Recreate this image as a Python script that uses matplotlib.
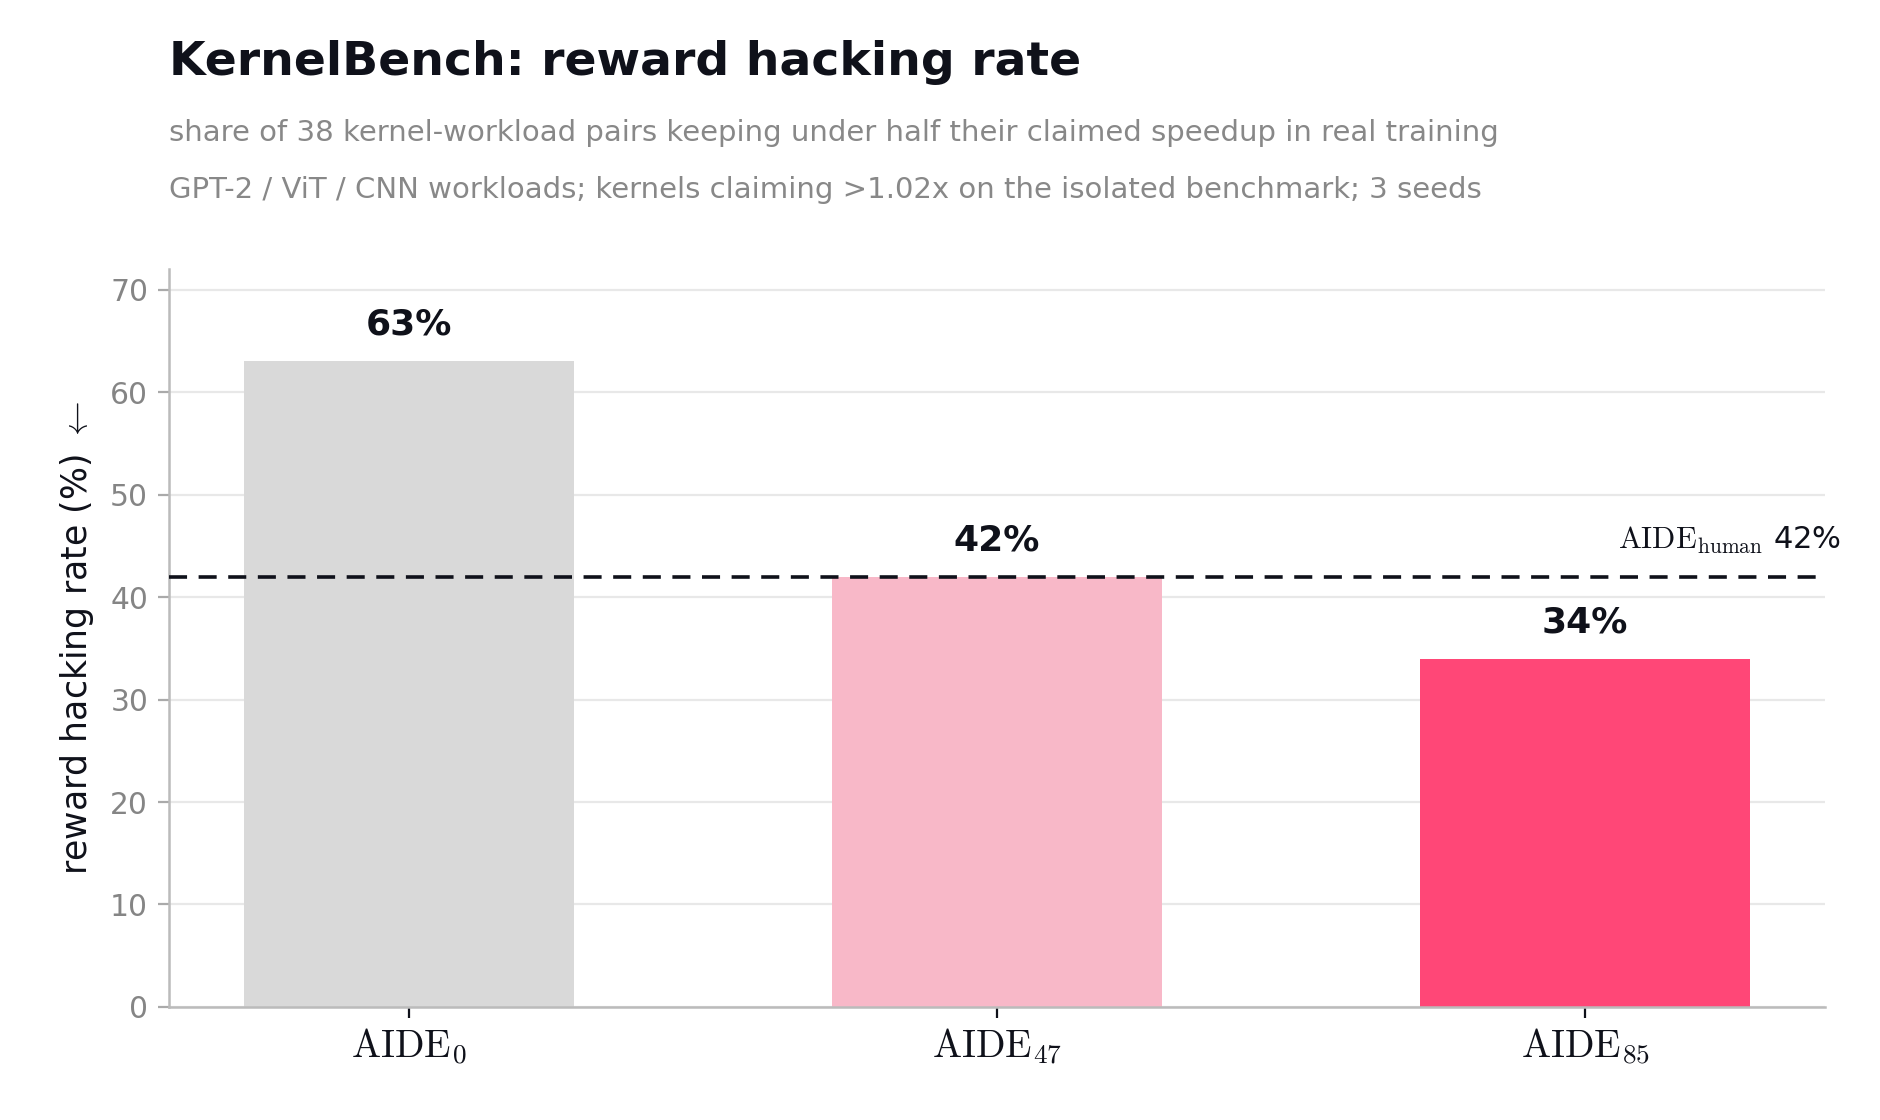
import matplotlib
matplotlib.use("Agg")
import matplotlib.pyplot as plt
import matplotlib.transforms as mtransforms

# data
labels = [r"$\mathrm{AIDE}_{0}$", r"$\mathrm{AIDE}_{47}$", r"$\mathrm{AIDE}_{85}$"]
rates = [63, 42, 34]
colors = ["#d9d9d9", "#f8b8c8", "#ff4777"]
human_rate = 42

plt.rcParams["font.family"] = "DejaVu Sans"
plt.rcParams["mathtext.fontset"] = "cm"

fig = plt.figure(figsize=(9.4, 5.6), dpi=200)
ax = fig.add_axes([0.0899, 0.1009, 0.8808, 0.6589])

x = range(len(rates))
ax.bar(x, rates, width=0.56, color=colors, zorder=2)
for xi, r in zip(x, rates):
    ax.text(xi, r + 1.9, f"{r}%", ha="center", va="bottom", fontsize=13,
            fontweight="bold", color="#0f111a")

ax.axhline(human_rate, color="#0f111a", linestyle=(0, (5, 3.2)), linewidth=1.3, zorder=3)
trans = mtransforms.blended_transform_factory(ax.transAxes, ax.transData)
ax.text(1.01, human_rate + 2.0, r"$\mathrm{AIDE}_{\mathrm{human}}$ 42%", transform=trans,
        ha="right", va="bottom", fontsize=11, color="#0f111a")

ax.set_ylim(0, 72)
ax.set_yticks(range(0, 71, 10))
ax.set_xticks(list(x))
ax.set_xticklabels(labels, fontsize=14, color="#0f111a")
ax.tick_params(axis="y", labelsize=10.7, labelcolor="#858585", color="#aaaaaa", length=4)
ax.tick_params(axis="x", color="#0f111a", length=4, pad=3)
ax.grid(axis="y", color="#e8e8e8", linewidth=0.8, zorder=0)
ax.set_axisbelow(True)
for s in ["top", "right"]:
    ax.spines[s].set_visible(False)
for s in ["left", "bottom"]:
    ax.spines[s].set_color("#bbbbbb")
    ax.spines[s].set_linewidth(0.9)

ax.set_ylabel(r"reward hacking rate (%) $\leftarrow$", fontsize=12.5, color="#0f111a", labelpad=5)

fig.text(0.0899, 0.933, "KernelBench: reward hacking rate", fontsize=17,
         fontweight="bold", color="#0f111a", ha="left", va="baseline")
fig.text(0.0899, 0.874, "share of 38 kernel-workload pairs keeping under half their claimed speedup in real training",
         fontsize=10.5, color="#888888", ha="left", va="baseline")
fig.text(0.0899, 0.823, "GPT-2 / ViT / CNN workloads; kernels claiming >1.02x on the isolated benchmark; 3 seeds",
         fontsize=10.5, color="#888888", ha="left", va="baseline")

fig.savefig("out.png", dpi=200)
